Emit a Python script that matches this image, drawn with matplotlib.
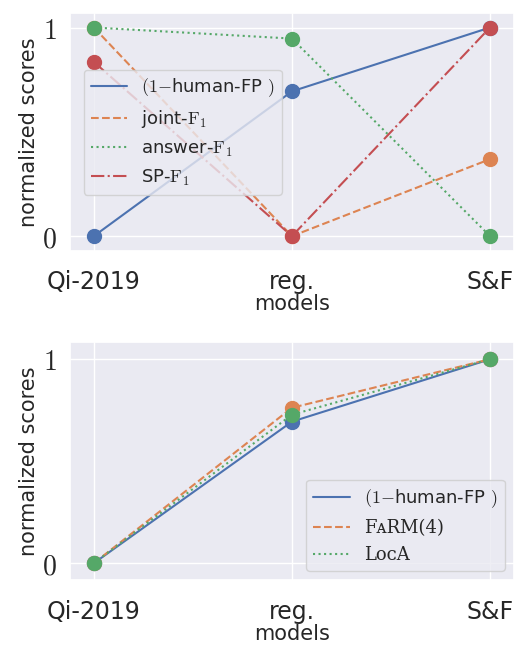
import matplotlib
matplotlib.use('Agg')
import matplotlib.pyplot as plt
import seaborn as sns

sns.set_theme(style='darkgrid')
plt.rcParams['font.family'] = ['DejaVu Sans']
plt.rcParams['mathtext.fontset'] = 'cm'

models = ['Qi-2019', 'reg.', 'S&F']

# top panel
human_fp = [0.0, 0.694, 1.0]
joint_f1 = [1.0, 0.0, 0.369]
answer_f1 = [1.0, 0.947, 0.0]
sp_f1 = [0.835, 0.0, 1.0]

# bottom panel
human_fp2 = [0.0, 0.694, 1.0]
farm4 = [0.0, 0.762, 1.0]
loca = [0.0, 0.728, 1.0]

cols = sns.color_palette('deep')
x = list(range(len(models)))

fig, (ax1, ax2) = plt.subplots(2, 1, figsize=(5.19, 6.46), dpi=100)
fig.subplots_adjust(left=0.135, right=0.99, top=0.98, bottom=0.102, hspace=0.385)

top_series = [
    (human_fp, r'$(1{-}$human-FP $)$', '-'),
    (joint_f1, r'joint-$\mathrm{F}_1$', '--'),
    (answer_f1, r'answer-$\mathrm{F}_1$', ':'),
    (sp_f1, r'SP-$\mathrm{F}_1$', '-.'),
]
for i, (vals, lab, ls) in enumerate(top_series):
    ax1.plot(x, vals, ls, color=cols[i], lw=1.5, label=lab)
    ax1.plot(x, vals, 'o', color=cols[i], ms=10)

bot_series = [
    (human_fp2, r'$(1{-}$human-FP $)$', '-'),
    (farm4, 'F\u1d00RM(4)', '--'),
    (loca, 'L\u1d0f\u1d04A', ':'),
]
for i, (vals, lab, ls) in enumerate(bot_series):
    ax2.plot(x, vals, ls, color=cols[i], lw=1.5, label=lab)
    ax2.plot(x, vals, 'o', color=cols[i], ms=10)

for ax in (ax1, ax2):
    ax.set_xticks(x)
    ax.set_xticklabels(models, fontsize=17)
    ax.set_yticks([0, 1])
    ax.set_yticklabels([r'$0$', r'$1$'], fontsize=20)
    ax.set_xlim(-0.12, 2.12)
    ax.set_xlabel('models', fontsize=15, labelpad=0)
    ax.set_ylabel('normalized scores', fontsize=15, labelpad=2)
    ax.tick_params(axis='x', pad=8)

ax1.set_ylim(-0.07, 1.07)
ax2.set_ylim(-0.083, 1.083)

leg1 = ax1.legend(loc='upper left', bbox_to_anchor=(0.01, 0.80), fontsize=13)
leg2 = ax2.legend(loc='lower right', fontsize=13)
for t in leg2.get_texts()[1:]:
    t.set_family('DejaVu Serif')

fig.savefig('out.png')
